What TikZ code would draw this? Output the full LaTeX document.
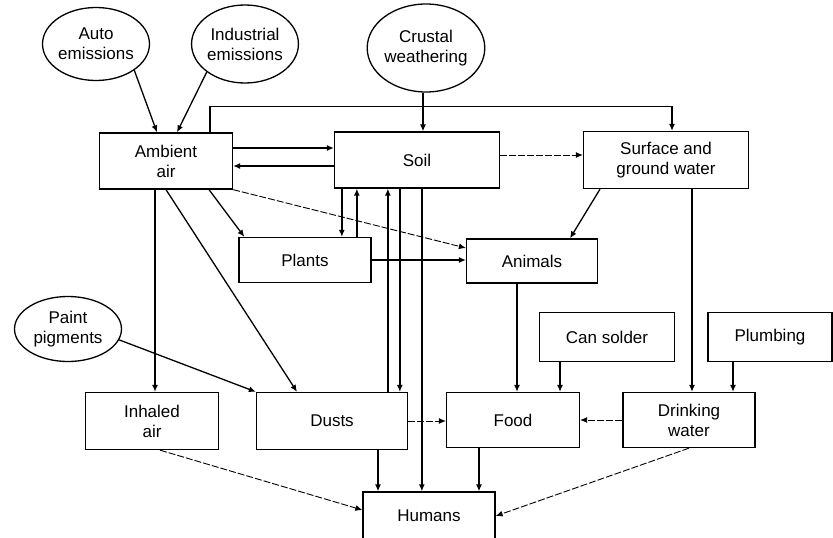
\documentclass[tikz,border=0pt]{standalone}
\usepackage{fontspec}
\setmainfont{Liberation Sans}
\usetikzlibrary{arrows.meta,shapes.geometric,positioning}

\tikzset{
  box/.style = {draw, line width=1.3pt, inner sep=0pt, align=center,
                font=\fontsize{17}{20}\selectfont},
  source/.style = {ellipse, draw, line width=1.3pt, inner sep=0pt, align=center,
                   font=\fontsize{17}{20}\selectfont},
  arr/.style = {-{Latex[length=7pt,width=6pt]}, line width=1.3pt},
  faint/.style = {-{Latex[length=7pt,width=6pt]}, line width=0.9pt, dash pattern=on 7pt off 2pt},
}

\begin{document}
\begin{tikzpicture}[x=1pt, y=-1pt]
                \useasboundingbox (0,0) rectangle (833,538);

                % sources
                \node (auto) [source, minimum width=107pt, minimum height=73pt] at (96,44) {Auto\\emissions};
                \node (industrial) [source, minimum width=106pt, minimum height=78pt] at (245,44) {Industrial\\emissions};
                \node (crustal) [source, minimum width=107pt, minimum height=88pt] at (426,48) {Crustal\\weathering};
                \node (paint) [source, minimum width=107pt, minimum height=65pt] at (68,329) {Paint\\pigments};

                % media
                \node (air) [box, minimum width=133pt, minimum height=56pt] at (166,161) {Ambient\\air};
                \node (soil) [box, minimum width=165pt, minimum height=56pt] at (417,160) {Soil};
                \node (water) [box, minimum width=165pt, minimum height=57pt] at (666,160) {Surface and\\ground water};
                \node (plants) [box, minimum width=132pt, minimum height=45pt] at (305,260) {Plants};
                \node (animals) [box, minimum width=131pt, minimum height=44pt] at (532,261) {Animals};
                \node (cansolder) [box, minimum width=135pt, minimum height=49pt] at (607,337) {Can solder};
                \node (plumbing) [box, minimum width=124pt, minimum height=49pt] at (770,337) {Plumbing};
                \node (inhaled) [box, minimum width=133pt, minimum height=57pt] at (152,421) {Inhaled\\air};
                \node (dusts) [box, minimum width=151pt, minimum height=57pt] at (332,421) {Dusts};
                \node (food) [box, minimum width=133pt, minimum height=55pt] at (513,420) {Food};
                \node (drinking) [box, minimum width=132pt, minimum height=55pt] at (689,420) {Drinking\\water};
                \node (humans) [box, minimum width=132pt, minimum height=48pt] at (429,516) {Humans};

                % emissions into air and soil
                \path [arr]
                    (auto.south east) edge ([xshift=-9]air.north)
                    (industrial.south west) edge ([xshift=11]air.north)
                    ([xshift=-3]crustal.south) edge ([xshift=-3]crustal.south |- soil.north);

                \draw [arr] ([xshift=44]air.north) -- ++(0,-26) -| ([xshift=6]water.north);

                % air <-> soil
                \path [arr]
                    ([yshift=13]air.east) edge ([yshift=13]air.east -| soil.west)
                    ([yshift=-5]air.east -| soil.west) edge ([yshift=-5]air.east);

                % from air
                \path [arr]
                    ([xshift=43]air.south) edge ([xshift=6]plants.north west)
                    ([xshift=-11]air.south) edge ([xshift=-11]air.south |- inhaled.north)
                    (air.south) edge ([xshift=-35]dusts.north);
                \path [faint]
                    (air.south east) edge ([yshift=13]animals.west)
                    ([yshift=5]soil.east) edge ([yshift=5]soil.east -| water.west);

                % soil <-> plants, dusts, humans
                \path [arr]
                    ([xshift=8]soil.south west) edge ([xshift=8]soil.south west |- plants.north)
                    ([xshift=23]soil.south west |- plants.north) edge ([xshift=23]soil.south west)
                    ([xshift=54]soil.south west |- dusts.north) edge ([xshift=54]soil.south west)
                    ([xshift=66]soil.south west) edge ([xshift=66]soil.south west |- dusts.north)
                    ([xshift=88]soil.south west) edge ([xshift=88]soil.south west |- humans.north);

                % food chain
                \path [arr]
                    (plants.east) edge (plants.east -| animals.west)
                    ([xshift=-66]water.south) edge ([xshift=38]animals.north)
                    ([xshift=26]water.south) edge ([xshift=26]water.south |- drinking.north)
                    ([xshift=-15]animals.south) edge ([xshift=-15]animals.south |- food.north)
                    ([xshift=-47]cansolder.south) edge ([xshift=-47]cansolder.south |- food.north)
                    ([xshift=-37]plumbing.south) edge ([xshift=-37]plumbing.south |- drinking.north)
                    (paint.-12) edge (dusts.north west);

                % into humans
                \path [faint]
                    (dusts.east) edge (dusts.east -| food.west)
                    (drinking.west) edge (drinking.west -| food.east)
                    ([xshift=8]inhaled.south) edge ([yshift=6]humans.west)
                    (drinking.south) edge (humans.east);
                \path [arr]
                    ([xshift=46]dusts.south) edge ([xshift=46]dusts.south |- humans.north)
                    ([xshift=-34]food.south) edge ([xshift=-34]food.south |- humans.north);
            \end{tikzpicture}
\end{document}
